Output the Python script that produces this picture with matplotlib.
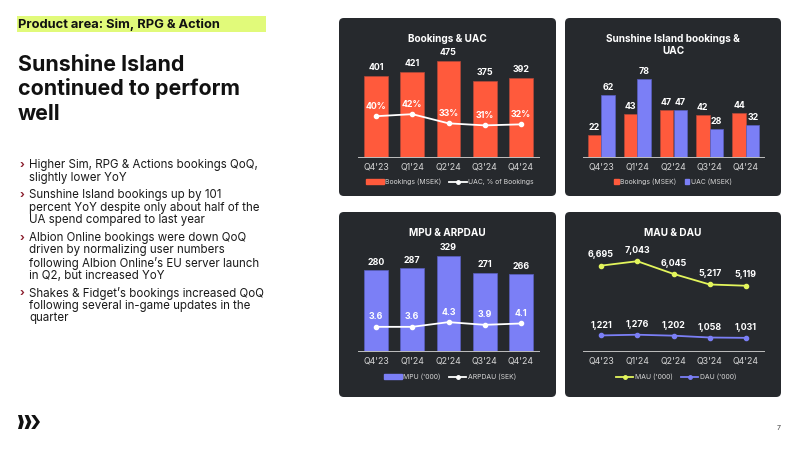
import matplotlib
matplotlib.use("Agg")
import matplotlib.pyplot as plt
from matplotlib.patches import FancyBboxPatch, Rectangle, Polygon
from matplotlib.lines import Line2D

plt.rcParams['font.family'] = ['Inter', 'DejaVu Sans']

W, H = 800, 450

# ---- data ----
quarters = ["Q4'23", "Q1'24", "Q2'24", "Q3'24", "Q4'24"]

bookings = [401, 421, 475, 375, 392]
uac_share = [0.40, 0.42, 0.33, 0.31, 0.32]

si_bookings = [22, 43, 47, 42, 44]
si_uac = [62, 78, 47, 28, 32]

mpu = [280, 287, 329, 271, 266]
arpdau = [3.6, 3.6, 4.3, 3.9, 4.1]

mau = [6695, 7043, 6045, 5217, 5119]
dau = [1221, 1276, 1202, 1058, 1031]

tag_text = "Product area: Sim, RPG & Action"
heading_lines = ["Sunshine Island", "continued to perform", "well"]
bullets = [
    ["Higher Sim, RPG & Actions bookings QoQ,", "slightly lower YoY"],
    ["Sunshine Island bookings up by 101", "percent YoY despite only about half of the",
     "UA spend compared to last year"],
    ["Albion Online bookings were down QoQ", "driven by normalizing user numbers",
     "following Albion Online\u2019s EU server launch", "in Q2, but increased YoY"],
    ["Shakes & Fidget\u2019s bookings increased QoQ", "following several in-game updates in the",
     "quarter"],
]

RED = '#ff5a3c'
BLUE = '#7b7ff6'
YELLOW = '#e3f55c'
PANEL = '#26292d'
TXT = '#d6d6d6'


def fx(x):
    return x / W


def fy(y):
    return 1 - y / H


def add_axes(x0, y0, x1, y1):
    ax = fig.add_axes([fx(x0), fy(y1), (x1 - x0) / W, (y1 - y0) / H])
    ax.set_facecolor('none')
    for s in ['top', 'right', 'left']:
        ax.spines[s].set_visible(False)
    ax.spines['bottom'].set_color('#bfbfbf')
    ax.spines['bottom'].set_linewidth(0.7)
    ax.set_yticks([])
    ax.set_xticks(range(len(quarters)))
    ax.set_xticklabels(quarters)
    ax.tick_params(axis='x', length=0, labelsize=6.3, colors=TXT, pad=4.0)
    ax.set_xlim(-0.5, 4.5)
    return ax


def style_twin(ax2):
    ax2.set_facecolor('none')
    ax2.set_yticks([])
    for s in ax2.spines.values():
        s.set_visible(False)


def label(ax, x, y, txt, off):
    ax.annotate(txt, (x, y), xytext=(0, off), textcoords='offset points',
                ha='center', va='center', color='white', fontsize=6.4,
                fontweight='bold')


def panel(x0, y0, x1, y1, title, ty):
    p = FancyBboxPatch((fx(x0), fy(y1)), (x1 - x0) / W, (y1 - y0) / H,
                       boxstyle='round,pad=0,rounding_size=0.006',
                       mutation_aspect=W / H,
                       transform=fig.transFigure, facecolor=PANEL,
                       edgecolor='none', zorder=-5)
    fig.patches.append(p)
    fig.text(fx((x0 + x1) / 2), fy(ty), title, ha='center', va='center',
             color='white', fontsize=7.2, fontweight='bold', linespacing=1.3)


def legend(ax, handles, labels, cx, cy, **kw):
    ax.legend(handles, labels, loc='center', bbox_to_anchor=(fx(cx), fy(cy)),
              bbox_transform=fig.transFigure, frameon=False, ncol=2,
              fontsize=4.9, labelcolor=TXT, handletextpad=0.2,
              columnspacing=1.2, **kw)


fig = plt.figure(figsize=(8, 4.5), dpi=100)
fig.patch.set_facecolor('white')

# ---- left column ----
fig.patches.append(Rectangle((fx(17), fy(32)), 249 / W, 16 / H,
                             transform=fig.transFigure, facecolor='#e1fa7a',
                             edgecolor='none', zorder=-5))
fig.text(fx(18.5), fy(24.5), tag_text, ha='left', va='center', fontsize=9.3,
         fontweight='bold', color='#111111')

for i, line in enumerate(heading_lines):
    fig.text(fx(18), fy(70.5 + 24.7 * i), line, ha='left', va='baseline',
             fontsize=15.4, fontweight='bold', color='#111111')

i = 0
for p, para in enumerate(bullets):
    for j, line in enumerate(para):
        y = 165 + 12.7 * i + 4.6 * p
        if j == 0:
            fig.text(fx(20), fy(y), "\u203a", ha='left', va='center',
                     fontsize=8, color='#8b1f2e', fontweight='bold')
        fig.text(fx(29), fy(y), line, ha='left', va='center', fontsize=8.3,
                 color='#1a1a1a')
        i += 1

# logo
for k, b in enumerate([2, 3, 5]):
    x0 = 18 + 6.6 * k
    t = 3.8
    pts = [(x0, 415), (x0 + t, 415), (x0 + t + b, 422), (x0 + t, 429),
           (x0, 429), (x0 + b, 422)]
    fig.patches.append(Polygon([(fx(a), fy(c)) for a, c in pts], closed=True,
                               transform=fig.transFigure, facecolor='#111111',
                               edgecolor='none'))

fig.text(fx(779), fy(428), "7", ha='center', va='center', fontsize=5,
         color='#444444')

# ---- panel 1: Bookings & UAC ----
panel(339, 18, 556, 196, "Bookings & UAC", 39)
ax = add_axes(358, 55, 539, 157)
xs = range(len(quarters))
ax.bar(xs, bookings, width=0.66, color=RED, edgecolor='#b4493a', linewidth=0.5)
ax.set_ylim(0, 505)
for x, v in zip(xs, bookings):
    label(ax, x, v, str(v), 6.2)
ax2 = ax.twinx()
style_twin(ax2)
ax2.plot(xs, uac_share, color='white', lw=1.3, marker='o', ms=3)
ax2.set_ylim(0, 1.0)
for x, v in zip(xs, uac_share):
    label(ax2, x, v, f"{round(v * 100)}%", 7.2)
legend(ax, [Rectangle((0, 0), 1, 1, color=RED),
            Line2D([], [], color='white', lw=1.3, marker='o', ms=2.5)],
       ["Bookings (MSEK)", "UAC, % of Bookings"], 450, 182, handlelength=2.6)

# ---- panel 2: Sunshine Island ----
panel(565, 18, 781, 196, "Sunshine Island bookings &\nUAC", 45)
ax = add_axes(583, 55, 764, 157)
ax.bar([x - 0.19 for x in xs], si_bookings, width=0.37, color=RED,
       edgecolor='#b4493a', linewidth=0.5)
ax.bar([x + 0.19 for x in xs], si_uac, width=0.37, color=BLUE,
       edgecolor='#5a5fc0', linewidth=0.5)
ax.set_ylim(0, 102)
for x, v in zip(xs, si_bookings):
    label(ax, x - 0.19, v, str(v), 5.4)
for x, v in zip(xs, si_uac):
    label(ax, x + 0.19, v, str(v), 5.4)
legend(ax, [Rectangle((0, 0), 1, 1, color=RED), Rectangle((0, 0), 1, 1, color=BLUE)],
       ["Bookings (MSEK)", "UAC (MSEK)"], 673, 182, handlelength=0.7,
       handleheight=0.7)

# ---- panel 3: MPU & ARPDAU ----
panel(339, 212, 556, 397, "MPU & ARPDAU", 233)
ax = add_axes(358, 249, 539, 351)
ax.bar(xs, mpu, width=0.66, color=BLUE, edgecolor='#5a5fc0', linewidth=0.5)
ax.set_ylim(0, 353)
for x, v in zip(xs, mpu):
    label(ax, x, v, str(v), 5.8)
ax2 = ax.twinx()
style_twin(ax2)
ax2.plot(xs, arpdau, color='white', lw=1.3, marker='o', ms=3)
ax2.set_ylim(0, 15.2)
for x, v in zip(xs, arpdau):
    label(ax2, x, v, f"{v:.1f}", 7.2)
legend(ax, [Rectangle((0, 0), 1, 1, color=BLUE),
            Line2D([], [], color='white', lw=1.3, marker='o', ms=2.5)],
       ["MPU ('000)", "ARPDAU (SEK)"], 450, 377, handlelength=2.6)

# ---- panel 4: MAU & DAU ----
panel(565, 212, 781, 397, "MAU & DAU", 233)
ax = add_axes(583, 249, 764, 351)
ax.plot(xs, mau, color=YELLOW, lw=1.3, marker='o', ms=3)
ax.plot(xs, dau, color=BLUE, lw=1.3, marker='o', ms=3)
ax.set_ylim(0, 8000)
for x, v in zip(xs, mau):
    label(ax, x, v, f"{v:,}", 7.8)
for x, v in zip(xs, dau):
    label(ax, x, v, f"{v:,}", 7.2)
legend(ax, [Line2D([], [], color=YELLOW, lw=1.3, marker='o', ms=2.5),
            Line2D([], [], color=BLUE, lw=1.3, marker='o', ms=2.5)],
       ["MAU ('000)", "DAU ('000)"], 676, 377, handlelength=2.6)

fig.savefig('out.png', dpi=100)
